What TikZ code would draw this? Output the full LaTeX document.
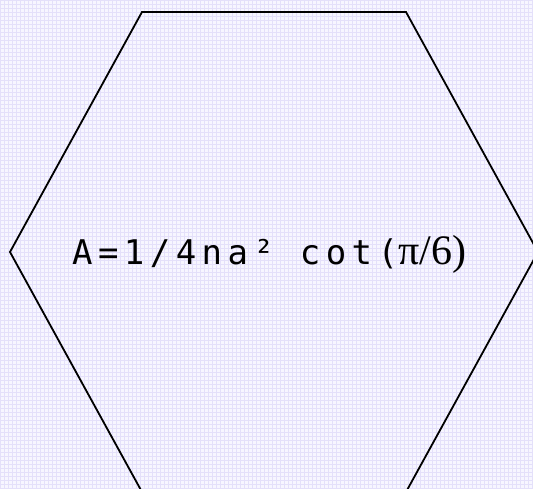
\documentclass[tikz,border=0pt]{standalone}
\usepackage{fontspec}
\newfontfamily\hexmono[LetterSpace=16]{DejaVu Sans Mono}
\newfontfamily\hexserif{Liberation Serif}
\definecolor{paper}{RGB}{247,246,255}
\definecolor{gridline}{RGB}{228,224,250}
\begin{document}
\begin{tikzpicture}[x=1pt,y=-1pt,
  hexline/.style={draw=black,line width=1.8pt,line join=miter},
  formula/.style={anchor=base west,inner sep=0pt,font=\hexmono\fontsize{34}{40}\selectfont}]
\useasboundingbox (0,0) rectangle (533,489);
\fill[paper] (0,0) rectangle (533,489);
\begin{scope}
\clip (0,0) rectangle (533,489);
\draw[gridline,line width=0.7pt,step=4pt] (0,0) grid (533,489);
\draw[hexline] (142,12) -- (406,12) -- (538,252) -- (406,492) -- (142,492) -- (10,252) -- cycle;
\end{scope}
\node[formula] (area) at (72,265) {A=1/4na² cot({\hexserif\fontsize{42}{48}\selectfont π/6)}};
\end{tikzpicture}
\end{document}
